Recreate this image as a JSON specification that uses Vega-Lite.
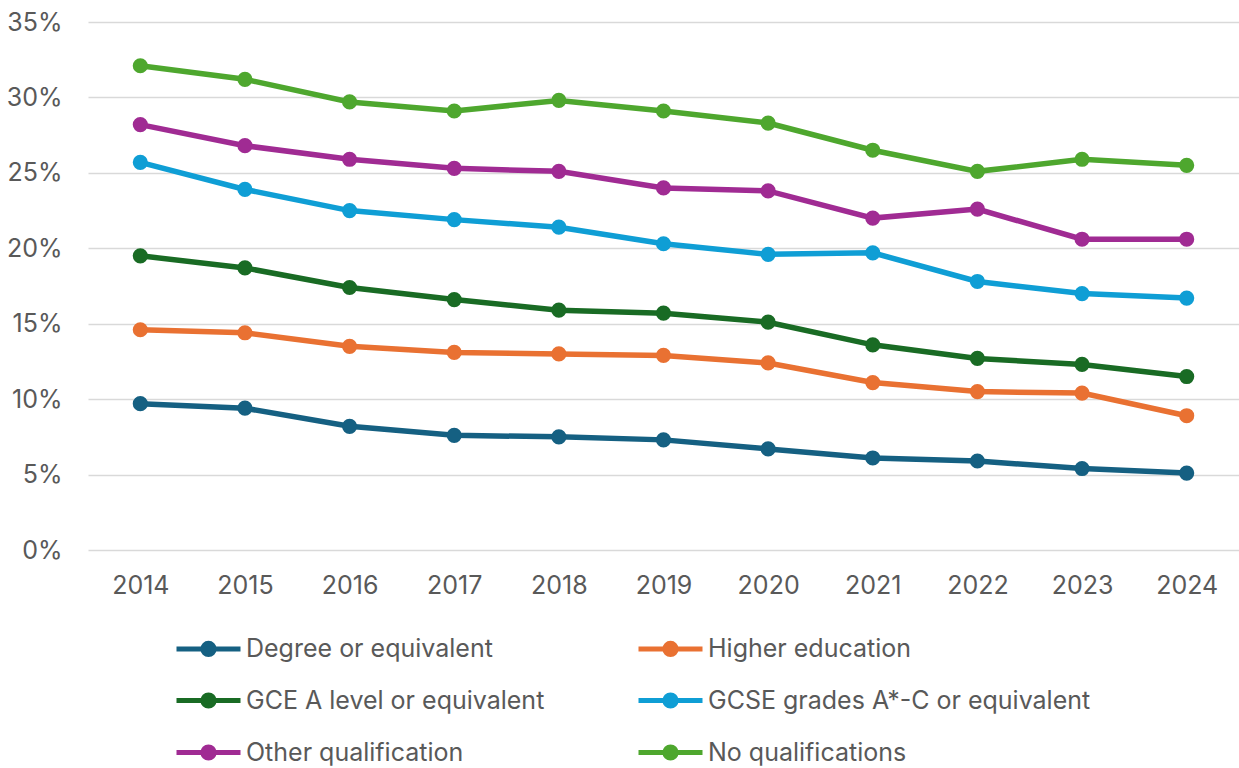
{
  "$schema": "https://vega.github.io/schema/vega-lite/v6.json",
  "width": 1151,
  "height": 528,
  "autosize": {"type": "none"},
  "padding": {"left": 88, "top": 22, "right": 0, "bottom": 218},
  "background": "white",
  "config": {
    "view": {"stroke": null},
    "font": "Inter",
    "axis": {"labelFont": "Inter", "labelColor": "#595959", "labelFontSize": 25, "ticks": false, "domain": false, "title": null},
    "legend": {"labelFont": "Inter"}
  },
  "data": {
    "values": [
      {"year": "2014", "series": "Degree or equivalent", "value": 0.097},
      {"year": "2015", "series": "Degree or equivalent", "value": 0.094},
      {"year": "2016", "series": "Degree or equivalent", "value": 0.082},
      {"year": "2017", "series": "Degree or equivalent", "value": 0.076},
      {"year": "2018", "series": "Degree or equivalent", "value": 0.075},
      {"year": "2019", "series": "Degree or equivalent", "value": 0.073},
      {"year": "2020", "series": "Degree or equivalent", "value": 0.067},
      {"year": "2021", "series": "Degree or equivalent", "value": 0.061},
      {"year": "2022", "series": "Degree or equivalent", "value": 0.059},
      {"year": "2023", "series": "Degree or equivalent", "value": 0.054},
      {"year": "2024", "series": "Degree or equivalent", "value": 0.051},
      {"year": "2014", "series": "Higher education", "value": 0.146},
      {"year": "2015", "series": "Higher education", "value": 0.144},
      {"year": "2016", "series": "Higher education", "value": 0.135},
      {"year": "2017", "series": "Higher education", "value": 0.131},
      {"year": "2018", "series": "Higher education", "value": 0.130},
      {"year": "2019", "series": "Higher education", "value": 0.129},
      {"year": "2020", "series": "Higher education", "value": 0.124},
      {"year": "2021", "series": "Higher education", "value": 0.111},
      {"year": "2022", "series": "Higher education", "value": 0.105},
      {"year": "2023", "series": "Higher education", "value": 0.104},
      {"year": "2024", "series": "Higher education", "value": 0.089},
      {"year": "2014", "series": "GCE A level or equivalent", "value": 0.195},
      {"year": "2015", "series": "GCE A level or equivalent", "value": 0.187},
      {"year": "2016", "series": "GCE A level or equivalent", "value": 0.174},
      {"year": "2017", "series": "GCE A level or equivalent", "value": 0.166},
      {"year": "2018", "series": "GCE A level or equivalent", "value": 0.159},
      {"year": "2019", "series": "GCE A level or equivalent", "value": 0.157},
      {"year": "2020", "series": "GCE A level or equivalent", "value": 0.151},
      {"year": "2021", "series": "GCE A level or equivalent", "value": 0.136},
      {"year": "2022", "series": "GCE A level or equivalent", "value": 0.127},
      {"year": "2023", "series": "GCE A level or equivalent", "value": 0.123},
      {"year": "2024", "series": "GCE A level or equivalent", "value": 0.115},
      {"year": "2014", "series": "GCSE grades A*-C or equivalent", "value": 0.257},
      {"year": "2015", "series": "GCSE grades A*-C or equivalent", "value": 0.239},
      {"year": "2016", "series": "GCSE grades A*-C or equivalent", "value": 0.225},
      {"year": "2017", "series": "GCSE grades A*-C or equivalent", "value": 0.219},
      {"year": "2018", "series": "GCSE grades A*-C or equivalent", "value": 0.214},
      {"year": "2019", "series": "GCSE grades A*-C or equivalent", "value": 0.203},
      {"year": "2020", "series": "GCSE grades A*-C or equivalent", "value": 0.196},
      {"year": "2021", "series": "GCSE grades A*-C or equivalent", "value": 0.197},
      {"year": "2022", "series": "GCSE grades A*-C or equivalent", "value": 0.178},
      {"year": "2023", "series": "GCSE grades A*-C or equivalent", "value": 0.170},
      {"year": "2024", "series": "GCSE grades A*-C or equivalent", "value": 0.167},
      {"year": "2014", "series": "Other qualification", "value": 0.282},
      {"year": "2015", "series": "Other qualification", "value": 0.268},
      {"year": "2016", "series": "Other qualification", "value": 0.259},
      {"year": "2017", "series": "Other qualification", "value": 0.253},
      {"year": "2018", "series": "Other qualification", "value": 0.251},
      {"year": "2019", "series": "Other qualification", "value": 0.240},
      {"year": "2020", "series": "Other qualification", "value": 0.238},
      {"year": "2021", "series": "Other qualification", "value": 0.220},
      {"year": "2022", "series": "Other qualification", "value": 0.226},
      {"year": "2023", "series": "Other qualification", "value": 0.206},
      {"year": "2024", "series": "Other qualification", "value": 0.206},
      {"year": "2014", "series": "No qualifications", "value": 0.321},
      {"year": "2015", "series": "No qualifications", "value": 0.312},
      {"year": "2016", "series": "No qualifications", "value": 0.297},
      {"year": "2017", "series": "No qualifications", "value": 0.291},
      {"year": "2018", "series": "No qualifications", "value": 0.298},
      {"year": "2019", "series": "No qualifications", "value": 0.291},
      {"year": "2020", "series": "No qualifications", "value": 0.283},
      {"year": "2021", "series": "No qualifications", "value": 0.265},
      {"year": "2022", "series": "No qualifications", "value": 0.251},
      {"year": "2023", "series": "No qualifications", "value": 0.259},
      {"year": "2024", "series": "No qualifications", "value": 0.255}
    ]
  },
  "encoding": {
    "x": {
      "field": "year", "type": "ordinal",
      "scale": {"paddingOuter": 0.5},
      "axis": {"labelAngle": 0, "labelPadding": 23, "grid": false}
    },
    "y": {
      "field": "value", "type": "quantitative",
      "scale": {"domain": [0, 0.35], "nice": false},
      "axis": {"values": [0, 0.05, 0.1, 0.15, 0.2, 0.25, 0.3, 0.35], "format": ".0%", "labelPadding": 26, "grid": true, "gridColor": "#d9d9d9", "gridWidth": 1.5}
    },
    "color": {
      "field": "series", "type": "nominal",
      "sort": ["Degree or equivalent", "Higher education", "GCE A level or equivalent", "GCSE grades A*-C or equivalent", "Other qualification", "No qualifications"],
      "scale": {
        "domain": ["Degree or equivalent", "Higher education", "GCE A level or equivalent", "GCSE grades A*-C or equivalent", "Other qualification", "No qualifications"],
        "range": ["#156082", "#e97132", "#196b24", "#0f9ed5", "#a02b93", "#4ea72e"]
      },
      "legend": {
        "title": null,
        "orient": "none",
        "legendX": 102,
        "legendY": 608,
        "columns": 2,
        "direction": "horizontal",
        "columnPadding": 83,
        "rowPadding": 17,
        "symbolType": "M-2,0L2,0M0.35,0A0.35,0.35,0,1,1,-0.35,0A0.35,0.35,0,1,1,0.35,0Z",
        "symbolSize": 1024,
        "symbolStrokeWidth": 5,
        "labelOffset": 19,
        "labelFontSize": 25,
        "labelColor": "#595959",
        "labelLimit": 500
      }
    }
  },
  "layer": [
    {"mark": {"type": "line", "strokeWidth": 5.5}},
    {"mark": {"type": "point", "filled": true, "opacity": 1, "size": 230}}
  ]
}
